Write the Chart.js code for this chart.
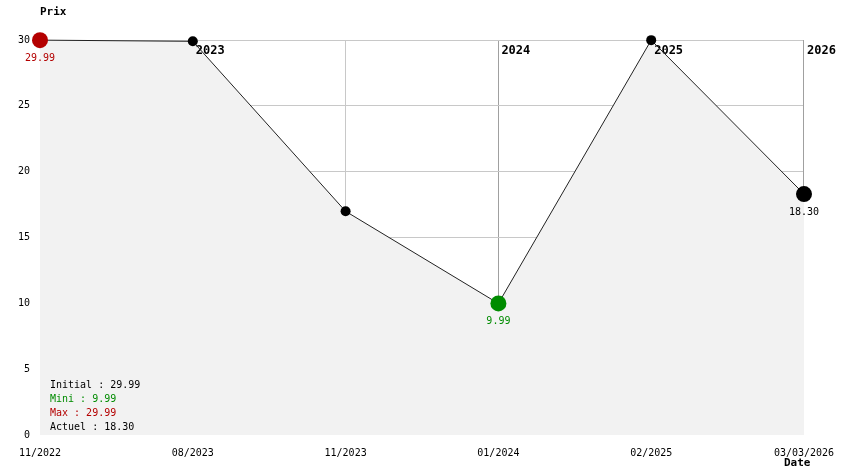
<!DOCTYPE html>
<html>
<head>
<meta charset="utf-8">
<title>Prix</title>
<script src="https://cdn.jsdelivr.net/npm/chart.js@4/dist/chart.umd.min.js"></script>
<style>
  body { margin: 0; background: #fff; }
  #wrap { width: 844px; height: 474px; }
</style>
</head>
<body>
<div id="wrap"><canvas id="prixChart" width="844" height="474"></canvas></div>
<script>
// Donnees du graphique
const dateLabels = ['11/2022', '08/2023', '11/2023', '01/2024', '02/2025', '03/03/2026'];
const prix = [29.99, 29.9, 16.99, 9.99, 29.99, 18.30];
const yearMarks = [null, '2023', null, '2024', '2025', '2026'];
const valueLabels = ['29.99', '', '', '9.99', '', '18.30'];
const statLabels = ['Initial : 29.99', 'Mini : 9.99', 'Max : 29.99', 'Actuel : 18.30'];

// Couleurs
const RED = '#b40000';
const GREEN = '#008c00';
const pointColors = ['#b40000', '#000', '#000', '#008c00', '#000', '#000'];
const pointSizes = [8, 5, 5, 8, 5, 8];
const valueColors = [RED, '#000', '#000', GREEN, '#000', '#000'];
const statColors = ['#000', GREEN, RED, '#000'];
const YEAR_LINE = '#a0a0a0';
const GRID = '#c8c8c8';

const MONO = '"DejaVu Sans Mono", "Liberation Mono", monospace';
const last = dateLabels.length - 1;

// Textes dessines a la main (annees, valeurs, resume, titres des axes)
const overlay = {
    id: 'overlay',
    beforeDatasetsDraw(chart) {
        const ctx = chart.ctx;
        const x = chart.scales.x;
        const area = chart.chartArea;
        const meta = chart.getDatasetMeta(0);
        ctx.save();
        // derniere ligne d'annee : seulement au-dessus de la courbe
        const lx = Math.round(x.getPixelForValue(last)) - 0.5;
        ctx.strokeStyle = YEAR_LINE;
        ctx.lineWidth = 1;
        ctx.beginPath();
        ctx.moveTo(lx, area.top);
        ctx.lineTo(lx, meta.data[last].y);
        ctx.stroke();

        ctx.font = 'bold 12px ' + MONO;
        ctx.fillStyle = '#000';
        ctx.textAlign = 'left';
        ctx.textBaseline = 'middle';
        yearMarks.forEach((y, i) => {
            if (!y) return;
            ctx.fillText(y, x.getPixelForValue(i) + 3, area.top + 11);
        });
        ctx.restore();
    },
    afterDatasetsDraw(chart) {
        const ctx = chart.ctx;
        const meta = chart.getDatasetMeta(0);
        const area = chart.chartArea;
        ctx.save();
        ctx.font = '10px ' + MONO;
        ctx.textAlign = 'center';
        ctx.textBaseline = 'middle';
        meta.data.forEach((pt, i) => {
            if (!valueLabels[i]) return;
            ctx.fillStyle = valueColors[i];
            ctx.fillText(valueLabels[i], pt.x, pt.y + 18);
        });

        // Resume en bas a gauche
        ctx.textAlign = 'left';
        statLabels.forEach((s, i) => {
            ctx.fillStyle = statColors[i];
            ctx.fillText(s, area.left + 10, area.bottom - 50 + i * 14);
        });

        // Titres des axes
        ctx.fillStyle = '#000';
        ctx.font = 'bold 11px ' + MONO;
        ctx.fillText('Prix', area.left, 12);
        ctx.fillText('Date', area.right - 20, 463);
        ctx.restore();
    }
};

new Chart(document.getElementById('prixChart'), {
    type: 'line',
    data: {
        labels: dateLabels,
        datasets: [{
            data: prix,
            borderColor: '#222',
            borderWidth: 1,
            backgroundColor: '#f2f2f2',
            fill: 'origin',
            tension: 0,
            pointRadius: pointSizes,
            pointHoverRadius: pointSizes,
            pointBackgroundColor: pointColors,
            pointBorderColor: pointColors,
            pointBorderWidth: 0,
            clip: false
        }]
    },
    options: {
        responsive: false,
        animation: false,
        layout: { padding: { left: 0, top: 40, right: 40, bottom: 0 } },
        plugins: {
            legend: { display: false },
            tooltip: { enabled: false },
            filler: { drawTime: 'beforeDatasetsDraw' }
        },
        scales: {
            x: {
                type: 'category',
                offset: false,
                afterFit(scale) {
                    scale.height = 39;
                    scale.paddingLeft = 0;
                    scale.paddingRight = 0;
                },
                border: { display: false },
                grid: {
                    drawTicks: false,
                    color: (c) => c.index === last ? 'rgba(0,0,0,0)' : (yearMarks[c.index] ? YEAR_LINE : GRID)
                },
                ticks: {
                    autoSkip: false,
                    maxRotation: 0,
                    padding: 12,
                    color: '#000',
                    font: { family: MONO, size: 10 }
                }
            },
            y: {
                min: 0,
                max: 30,
                afterFit(scale) { scale.width = 40; },
                border: { display: false },
                grid: {
                    drawTicks: false,
                    color: (c) => c.tick && c.tick.value === 0 ? 'rgba(0,0,0,0)' : GRID
                },
                ticks: {
                    stepSize: 5,
                    padding: 10,
                    color: '#000',
                    font: { family: MONO, size: 10 }
                }
            }
        }
    },
    plugins: [overlay]
});
</script>
</body>
</html>
